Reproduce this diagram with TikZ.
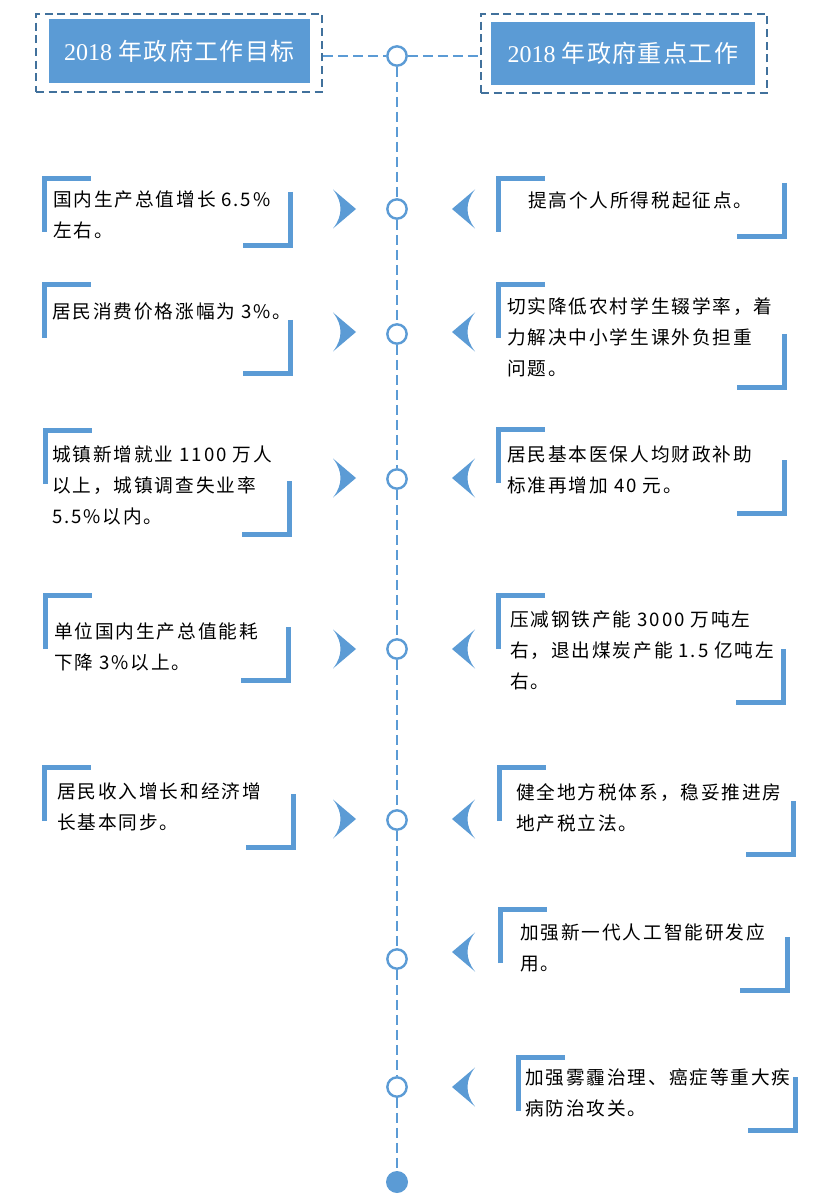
\documentclass[tikz,border=0pt]{standalone}
\usepackage{fontspec}
\setmainfont{Liberation Serif}
\newfontfamily\cjk[LetterSpace=10]{Noto Sans CJK SC}
\newfontfamily\cjkhead[LetterSpace=6]{Noto Sans CJK SC}

\definecolor{tlblue}{RGB}{91,155,213}
\definecolor{tlframe}{RGB}{65,113,156}

\tikzset{
    dline/.style={tlblue, line width=1.9pt, dash pattern=on 7.5pt off 3.75pt},
    dot/.style={circle, draw=tlblue, line width=1.8pt, fill=white, minimum size=14.5pt, inner sep=0pt},
    enddot/.style={circle, fill=tlblue, minimum size=16.5pt, inner sep=0pt},
    headframe/.style={draw=tlframe, line width=1.5pt, dash pattern=on 6pt off 3.5pt, minimum width=214.5pt},
    headbox/.style={fill=tlblue, text=white, font=\fontsize{18}{20}\selectfont},
    brk/.style={tlblue, line width=4pt},
    txt/.style={anchor=north west, inner sep=0pt, align=left, font=\cjk\fontsize{14}{23.25}\selectfont}
}

% corner pieces, outer corner given
\newcommand{\brkTL}[2]{\draw[brk] (#1+2.7,#2+56) -- (#1+2.7,#2+2.7) -- (#1+49,#2+2.7);}
\newcommand{\brkBR}[2]{\draw[brk] (#1-2.7,#2-56) -- (#1-2.7,#2-2.7) -- (#1-50,#2-2.7);}
% chevrons
\newcommand{\chevR}[1]{\fill[tlblue] (333,#1-19.5) -- (356,#1) -- (333,#1+19.5) .. controls (343,#1+7) and (343,#1-7) .. cycle;}
\newcommand{\chevL}[1]{\fill[tlblue] (475,#1-19.5) -- (452,#1) -- (475,#1+19.5) .. controls (465,#1+7) and (465,#1-7) .. cycle;}

\begin{document}
\begin{tikzpicture}[x=0.75pt, y=-0.75pt]
    \useasboundingbox (0,0) rectangle (836,1201);

    % Headers
    \node[headframe, minimum height=58.5pt] (goalframe) at (179,53) {};
    \node[headbox, minimum width=195.75pt, minimum height=48pt] (goal) at (179.5,51) {2018 {\cjkhead 年政府工作目标}};
    \node[headframe, minimum height=59.25pt] (workframe) at (624,53.5) {};
    \node[headbox, minimum width=198pt, minimum height=47.25pt] (work) at (623,53.5) {2018 {\cjkhead 年政府重点工作}};

    % Timeline
    \node[dot] (c0) at (397,56) {};
    \foreach \n/\y in {1/209, 2/334, 3/479, 4/649, 5/820, 6/959, 7/1087}
        \node[dot] (c\n) at (397,\y) {};
    \node[enddot] (cend) at (397,1182) {};
    \draw[dline] (goalframe.east |- c0) -- (c0) -- (workframe.west |- c0);
    \foreach \a/\b in {c0/c1, c1/c2, c2/c3, c3/c4, c4/c5, c5/c6, c6/c7, c7/cend}
        \draw[dline] (\a) -- (\b);

    % Chevrons
    \foreach \y in {209, 332, 478, 649, 819} {\chevR{\y}}
    \foreach \y in {209, 332, 478, 649, 819, 952, 1087} {\chevL{\y}}

    % Left goals
    \brkTL{42}{176} \brkBR{293}{248}
    \node[txt] (goal1) at (53,190.5) {国内生产总值增长 6.5\%\\左右。};
    \brkTL{42}{282} \brkBR{293}{376}
    \node[txt] (goal2) at (52,302.5) {居民消费价格涨幅为 3\%。};
    \brkTL{43}{428} \brkBR{292}{537}
    \node[txt] (goal3) at (52,445.5) {城镇新增就业 1100 万人\\以上，城镇调查失业率\\5.5\%以内。};
    \brkTL{43}{593} \brkBR{291}{683}
    \node[txt] (goal4) at (54,622.5) {单位国内生产总值能耗\\下降 3\%以上。};
    \brkTL{42}{765} \brkBR{296}{850}
    \node[txt] (goal5) at (57,782.5) {居民收入增长和经济增\\长基本同步。};

    % Right work
    \brkTL{496}{176} \brkBR{787}{239}
    \node[txt] (work1) at (528,191.5) {提高个人所得税起征点。};
    \brkTL{496}{282} \brkBR{787}{390}
    \node[txt] (work2) at (507,297.5) {切实降低农村学生辍学率，着\\力解决中小学生课外负担重\\问题。};
    \brkTL{496}{427} \brkBR{787}{516}
    \node[txt] (work3) at (507,445.5) {居民基本医保人均财政补助\\标准再增加 40 元。};
    \brkTL{496}{593} \brkBR{786}{705}
    \node[txt] (work4) at (510,610.5) {压减钢铁产能 3000 万吨左\\右，退出煤炭产能 1.5 亿吨左\\右。};
    \brkTL{497}{765} \brkBR{796}{857}
    \node[txt] (work5) at (516,783.5) {健全地方税体系，稳妥推进房\\地产税立法。};
    \brkTL{498}{907} \brkBR{790}{993}
    \node[txt] (work6) at (520,923.5) {加强新一代人工智能研发应\\用。};
    \brkTL{516}{1055} \brkBR{798}{1133}
    \node[txt] (work7) at (525,1068.5) {加强雾霾治理、癌症等重大疾\\病防治攻关。};
\end{tikzpicture}
\end{document}
